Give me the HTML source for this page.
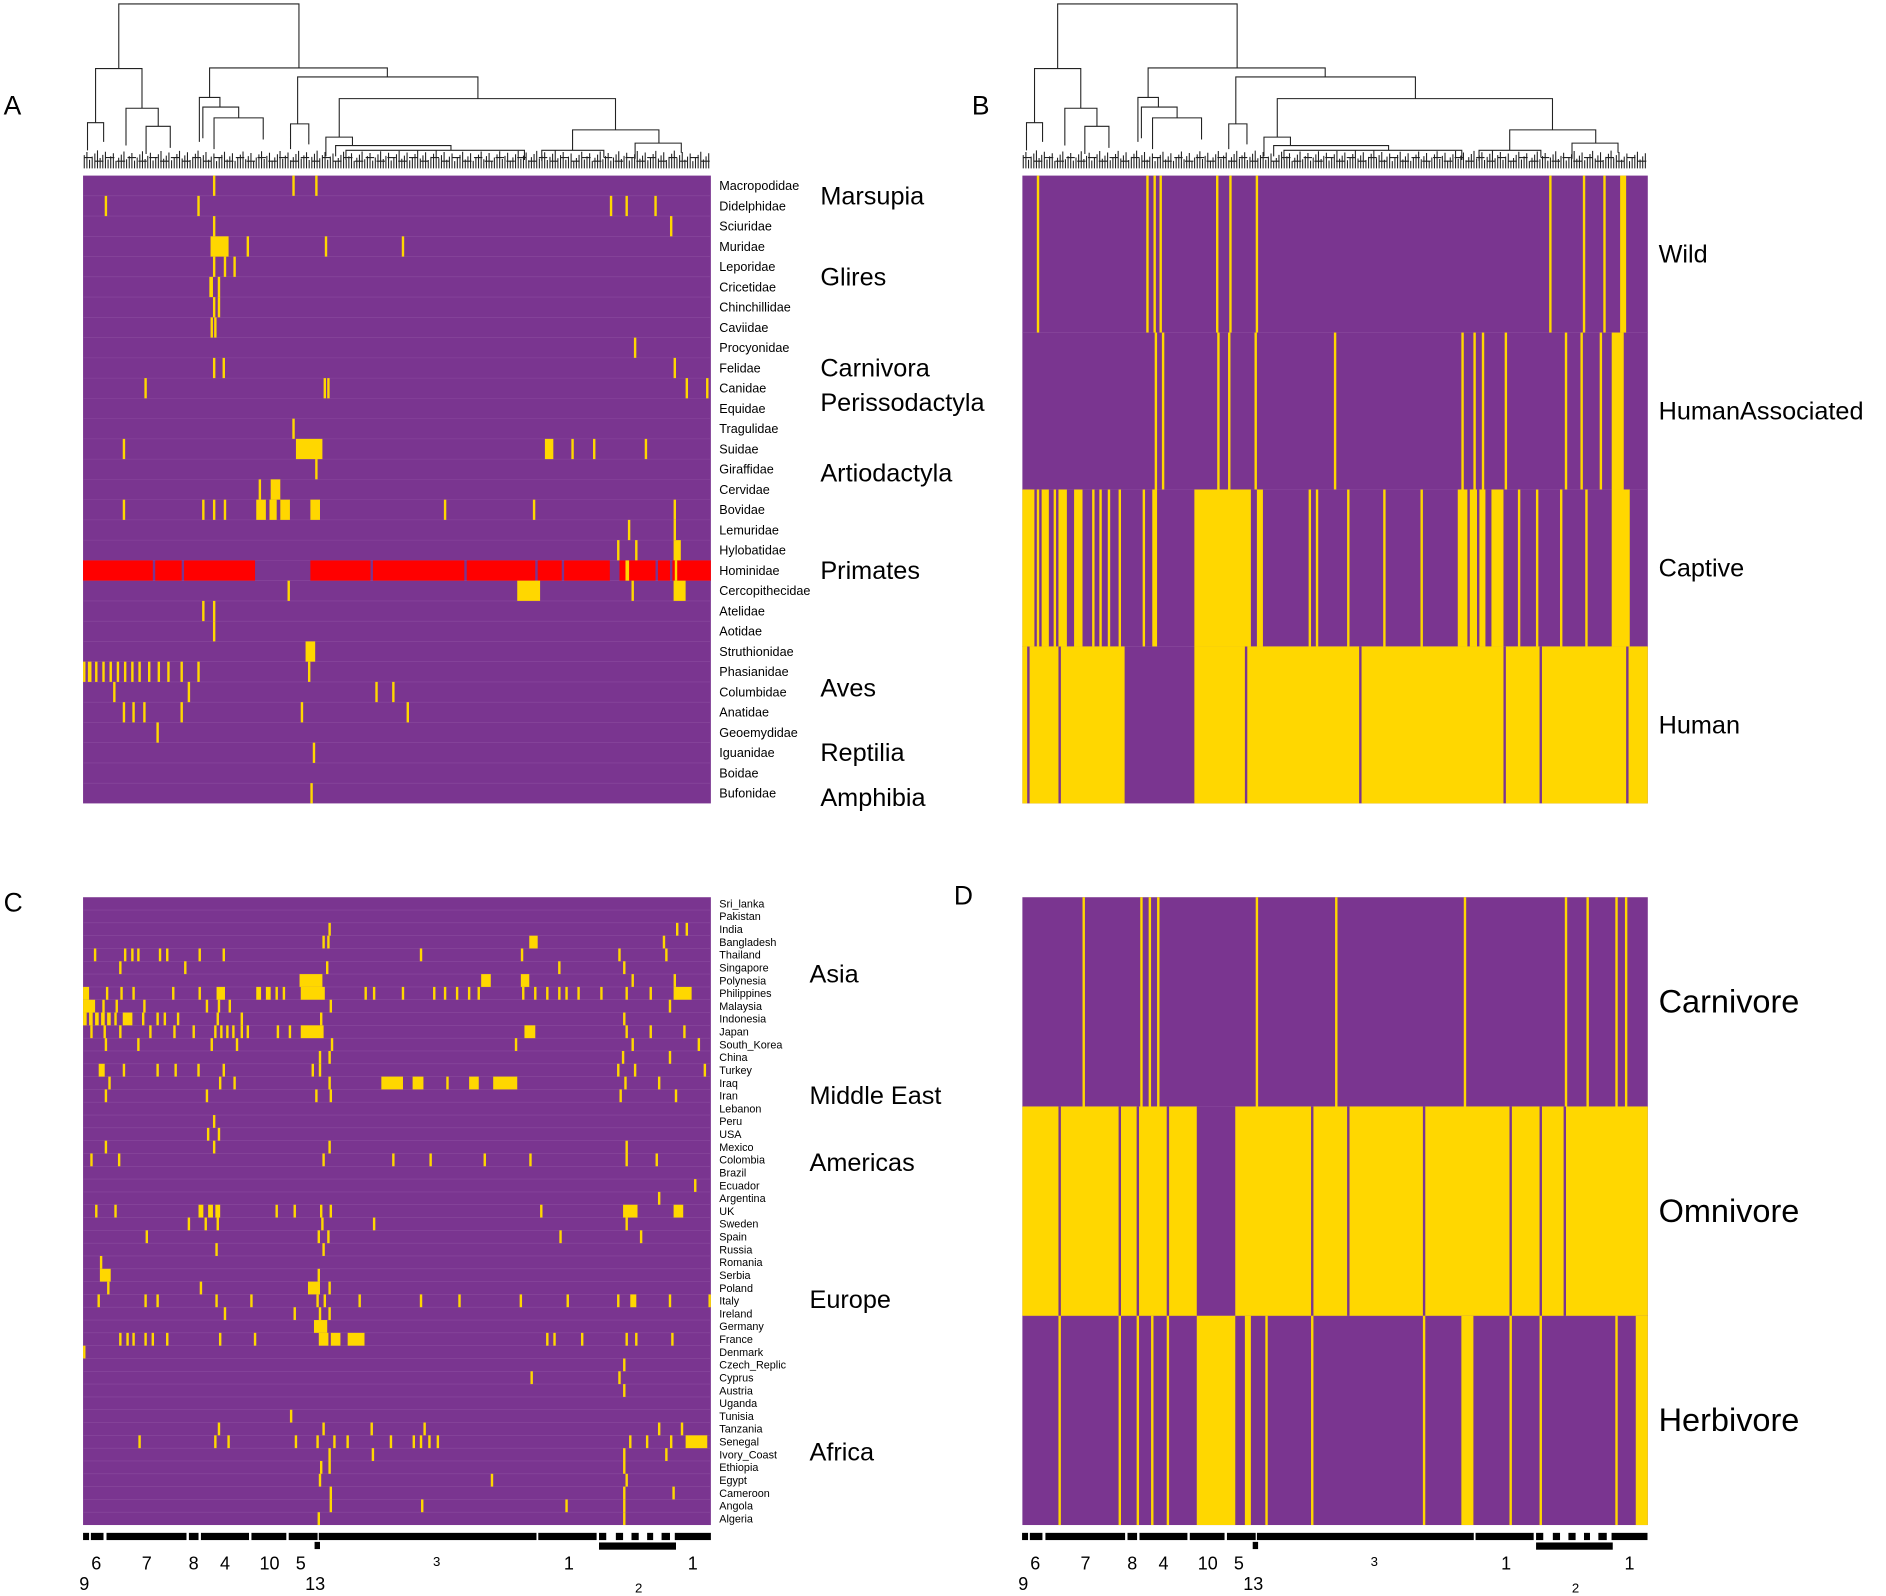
<!DOCTYPE html>
<html><head><meta charset="utf-8"><style>
html,body{margin:0;padding:0;background:#fff}
svg{display:block}
text{font-family:"Liberation Sans",sans-serif;fill:#000}
</style></head><body>
<svg id="fig" xmlns="http://www.w3.org/2000/svg" width="1886" height="1596" viewBox="0 0 1568 1327">
<rect width="1568" height="1327" fill="#fff"/>
<text x="3" y="95" font-size="22">A</text>
<text x="808" y="95" font-size="22">B</text>
<text x="3" y="758" font-size="22">C</text>
<text x="793" y="752" font-size="22">D</text>
<g id="dendroA"></g>
<g id="dendroB" transform="translate(781,0) scale(0.9962,1)"></g>
<g id="hmA"></g>
<g id="hmB"></g>
<g id="hmC"></g>
<g id="hmD"></g>
<g id="clC"></g>
<g id="clD" transform="translate(781,0) scale(0.9962,1)"></g>
</svg>
<script>
// ---- data ----
const rowsA=["Macropodidae","Didelphidae","Sciuridae","Muridae","Leporidae","Cricetidae","Chinchillidae","Caviidae","Procyonidae","Felidae","Canidae","Equidae","Tragulidae","Suidae","Giraffidae","Cervidae","Bovidae","Lemuridae","Hylobatidae","Hominidae","Cercopithecidae","Atelidae","Aotidae","Struthionidae","Phasianidae","Columbidae","Anatidae","Geoemydidae","Iguanidae","Boidae","Bufonidae"];
const groupsA=[["Marsupia",0.5],["Glires",4.5],["Carnivora",9],["Perissodactyla",10.7],["Artiodactyla",14.2],["Primates",19],["Aves",24.8],["Reptilia",28],["Amphibia",30.2]];
// yellow cells: [row, leafStart, leafWidth]
const cellsA=[[0,108],[0,174],[0,193],[1,18],[1,95],[1,438],[1,451],[1,475],[2,108],[2,488],[3,106,15],[3,136],[3,201],[3,265],[4,108],[4,117],[4,125],[5,105,3],[5,112],[6,108],[6,112],[7,106],[7,109],[8,458],[9,108],[9,116],[9,491],[10,51],[10,200],[10,203],[10,501],[10,518],[12,174],[13,33],[13,177,22],[13,384,7],[13,406],[13,424],[13,467],[14,193],[15,146],[15,156,8],[16,33],[16,99],[16,108],[16,117],[16,144,8],[16,155,6],[16,164,8],[16,189,8],[16,300],[16,374],[16,491],[17,453],[17,491],[18,444],[18,459],[18,491,6],[20,170],[20,361,19],[20,456],[20,491,10],[21,99],[21,108],[22,108],[23,185,8],[24,0],[24,4,3],[24,10],[24,16],[24,22],[24,28],[24,34],[24,40],[24,46],[24,54],[24,62],[24,70],[24,81],[24,95],[24,187],[25,25],[25,87],[25,243],[25,257],[26,33],[26,41],[26,50],[26,81],[26,181],[26,269],[27,61],[28,191],[30,189]];
const redA=[[19,0,58],[19,60,22],[19,84,59],[19,189,50],[19,241,76],[19,319,57],[19,378,20],[19,400,38],[19,446,30],[19,478,10],[19,490,32]];
const yelOnRedA=[[19,451,3],[19,492,2]];
const rowsB=["Wild","HumanAssociated","Captive","Human"];
const cellsB=[[0,12],[0,103],[0,109],[0,114],[0,161],[0,172],[0,194],[0,438],[0,466],[0,483],[0,497,5],
[1,110],[1,116],[1,162],[1,171],[1,193],[1,259],[1,365],[1,375],[1,382],[1,401],[1,451],[1,464],[1,480],[1,490,10],
[2,0,10],[2,12],[2,16,6],[2,26],[2,30,7],[2,43,7],[2,58],[2,64],[2,71],[2,80],[2,100],[2,108,4],[2,143,47],[2,195,5],[2,238],[2,244],[2,270],[2,300],[2,331],[2,362,8],[2,372,6],[2,380,5],[2,390,10],[2,412],[2,427],[2,447],[2,468],[2,490,15],
[3,0,4],[3,6,24],[3,32,53],[3,143,42],[3,187,93],[3,282,118],[3,402,28],[3,432,70],[3,504,16]];
const rowsC=["Sri_lanka","Pakistan","India","Bangladesh","Thailand","Singapore","Polynesia","Philippines","Malaysia","Indonesia","Japan","South_Korea","China","Turkey","Iraq","Iran","Lebanon","Peru","USA","Mexico","Colombia","Brazil","Ecuador","Argentina","UK","Sweden","Spain","Russia","Romania","Serbia","Poland","Italy","Ireland","Germany","France","Denmark","Czech_Replic","Cyprus","Austria","Uganda","Tunisia","Tanzania","Senegal","Ivory_Coast","Ethiopia","Egypt","Cameroon","Angola","Algeria"];
const groupsC=[["Asia",5.5],["Middle East",15],["Americas",20.2],["Europe",30.9],["Africa",42.8]];
const cellsC=[[2,204],[2,493],[2,501],[3,199],[3,203],[3,371,7],[3,482],[4,9],[4,34],[4,40],[4,45],[4,63],[4,69],[4,96],[4,116],[4,280],[4,364],[4,445],[4,484],[5,30],[5,84],[5,202],[5,395],[5,449],[6,180,19],[6,331,8],[6,364,7],[6,456],[6,491],
[7,0,5],[7,19],[7,31],[7,41],[7,74],[7,96],[7,111,7],[7,144,4],[7,152,4],[7,160],[7,166],[7,181,20],[7,234],[7,241],[7,265],[7,291],[7,300],[7,310],[7,320],[7,328],[7,365],[7,375],[7,385],[7,395],[7,401],[7,411],[7,430],[7,451],[7,471],[7,491,15],
[8,0,10],[8,16],[8,27],[8,50],[8,102],[8,112],[8,121],[8,205],[8,487],[9,0,3],[9,5,3],[9,10,3],[9,15,3],[9,20,3],[9,26],[9,33,8],[9,49],[9,61],[9,67],[9,78],[9,111],[9,131],[9,197],[9,449],
[10,6],[10,17],[10,30],[10,55],[10,75],[10,91],[10,109],[10,114],[10,119],[10,124],[10,131],[10,136],[10,161],[10,171],[10,181,19],[10,367,9],[10,451],[10,471],[10,499],
[11,18],[11,45],[11,106],[11,127],[11,206],[11,359],[11,456],[11,511],[12,196],[12,204],[12,448],[12,487],[13,13,5],[13,33],[13,61],[13,76],[13,95],[13,116],[13,190],[13,196],[13,444],[13,458],[13,516],
[14,21],[14,113],[14,125],[14,204],[14,248,18],[14,274,9],[14,302],[14,321,8],[14,341,20],[14,450],[14,478],[15,18],[15,102],[15,193],[15,205],[15,446],[15,492],[17,108],[18,103],[18,112],[19,18],[19,108],[19,204],[19,451],
[20,6],[20,29],[20,199],[20,257],[20,288],[20,333],[20,371],[20,451],[20,476],[22,508],[23,478],[24,10],[24,26],[24,96,4],[24,104,4],[24,110,4],[24,160],[24,175],[24,197],[24,205],[24,380],[24,449,12],[24,491,8],
[25,87],[25,101],[25,111],[25,198],[25,241],[25,451],[26,52],[26,195],[26,203],[26,396],[26,463],[27,110],[27,199],[28,14],[29,14,9],[29,195],[30,20],[30,97],[30,187,10],[30,204],
[31,12],[31,51],[31,61],[31,110],[31,139],[31,194],[31,200],[31,229],[31,280],[31,312],[31,363],[31,402],[31,444],[31,455,5],[31,487],[31,520],[32,117],[32,175],[32,196],[32,204],[33,192,11],
[34,30],[34,36],[34,41],[34,51],[34,57],[34,69],[34,113],[34,142],[34,196,8],[34,206,8],[34,220,14],[34,385],[34,391],[34,414],[34,451],[34,459],[34,489],[35,0],[36,449],[37,372],[37,445],[38,449],[40,172],
[41,112],[41,199],[41,239],[41,283],[41,478],[41,497],[42,46],[42,109],[42,120],[42,176],[42,194],[42,208],[42,219],[42,255],[42,274],[42,280],[42,287],[42,294],[42,454],[42,468],[42,488],[42,501,18],
[43,204],[43,240],[43,449],[43,484],[44,197],[44,204],[44,449],[45,196],[45,339],[45,451],[46,205],[46,449],[46,490],[47,205],[47,281],[47,401],[47,449],[48,195],[48,449]];
const rowsD=["Carnivore","Omnivore","Herbivore"];
const cellsD=[[0,50],[0,98],[0,105],[0,112],[0,194],[0,260],[0,367],[0,451],[0,469],[0,493],[0,501],
[1,0,30],[1,32,48],[1,82,13],[1,97,23],[1,122,23],[1,177,63],[1,242,28],[1,272,61],[1,335,70],[1,407,23],[1,432,18],[1,452,68],
[2,30],[2,80],[2,95],[2,107],[2,120],[2,145,32],[2,185,5],[2,202],[2,240],[2,333],[2,365,10],[2,405],[2,430],[2,493],[2,510,10]];
const clusterSegs=[[69,74],[75.5,86],[88.5,155],[157,165],[167,207],[209,238],[240,264],[265,446],[447.5,496],[498,504],[512,518],[525,531],[538,543],[550,557],[561,591]];
const clusterLabels=[["9",70,1322,15],["6",80,1305,15],["7",122,1305,15],["8",161,1305,15],["4",187,1305,15],["10",224,1305,15],["5",250,1305,15],["13",262,1322,15],["3",363,1302,11],["1",473,1305,15],["2",531,1324,11],["1",576,1305,15]];

const NS="http://www.w3.org/2000/svg";
const PUR="#7a3590",YEL="#ffd700",RED="#ff0000";
function mk(tag,attrs,parent){const e=document.createElementNS(NS,tag);for(const k in attrs)e.setAttribute(k,attrs[k]);parent.appendChild(e);return e;}

function heatmap(gid,x0,y0,w,h,nLeaf,rows,cells,color,name){
  const g=document.getElementById(gid);
  const bg=mk("rect",{x:x0,y:y0,width:w,height:h,fill:PUR},g);
  
  
  const rh=h/rows.length;
  const xs=i=>x0+i*w/nLeaf, ys=r=>y0+r*rh;
  for(let r=1;r<rows.length;r++){const l=mk("line",{x1:x0,x2:x0+w,y1:ys(r),y2:ys(r),stroke:"#8a4a9e","stroke-width":0.5},g);
    
    }
  return {g,xs,ys,rh};
}
function draw(hm,cells,color,name){
  cells.forEach(c=>{const wd=c[2]||2;
    const r=mk("rect",{x:hm.xs(c[1]),y:hm.ys(c[0]),width:hm.xs(c[1]+wd)-hm.xs(c[1]),height:hm.rh,fill:color},hm.g);
    
    });
}
function labels(hm,x,rows,fs,name){
  rows.forEach((t,i)=>{const e=mk("text",{x:x,y:hm.ys(i)+hm.rh/2+fs*0.35,"font-size":fs},hm.g);e.textContent=t;
    
    });
}
// A
const A=heatmap("hmA",69,146,522,522,522,rowsA);
draw(A,redA,RED,'hominidae-cell');draw(A,cellsA,YEL,'presence-cell');draw(A,yelOnRedA,YEL,'presence-cell');
labels(A,598,rowsA,10.5,'family-label');
groupsA.forEach(([t,r])=>{const e=mk("text",{x:682,y:A.ys(r)+A.rh/2+7,"font-size":21},A.g);e.textContent=t;
  
  });
// B
const B=heatmap("hmB",850,146,520,522,520,rowsB);
draw(B,cellsB,YEL,'presence-cell');
rowsB.forEach((t,i)=>{const e=mk("text",{x:1379,y:B.ys(i)+B.rh/2+7,"font-size":21},B.g);e.textContent=t;
  
  });
// C
const C=heatmap("hmC",69,746,522,522,522,rowsC);
draw(C,cellsC,YEL,'presence-cell');
labels(C,598,rowsC,9,'country-label');
groupsC.forEach(([t,r])=>{const e=mk("text",{x:673,y:C.ys(r)+C.rh/2+7,"font-size":21},C.g);e.textContent=t;
  
  });
// D
const D=heatmap("hmD",850,746,520,522,520,rowsD);
draw(D,cellsD,YEL,'presence-cell');
rowsD.forEach((t,i)=>{const e=mk("text",{x:1379,y:D.ys(i)+D.rh/2+9,"font-size":27},D.g);e.textContent=t;
  
  });

// cluster bars
["clC","clD"].forEach(id=>{const g=document.getElementById(id);
  clusterSegs.forEach(s=>{const r=mk("rect",{x:s[0],y:1274.5,width:s[1]-s[0],height:6,fill:"#000"},g);
    
    });
  const lb=mk("rect",{x:498,y:1282.5,width:64,height:6,fill:"#000"},g);
  
  
  const mkr=mk("rect",{x:261.5,y:1282,width:4.5,height:6,fill:"#000"},g);
  
  
  clusterLabels.forEach(([t,x,y,fs])=>{const e=mk("text",{x:x,y:y,"font-size":fs,"text-anchor":"middle"},g);e.textContent=t;
    
    });
});

// dendrograms: [xLeft, xRight, yJoin, yLeftEnd, yRightEnd]
const nodes=[[98.7,248.5,3.3,57,56.5],[79.4,118,57,102,90],[72.7,86.1,102,125,118],[104.7,131.5,90,121,105],[121.4,141.5,105,128,123],
[174.2,322,56.5,81,64],[165.7,182.8,81,118,89],[168.6,198.4,89,115,98],[177.9,218.8,98,124,116],
[247.4,397.3,64,103,82],[241.5,256.7,103,124,120],[282,511.7,82,114,108],[270.9,293,114,130,121],[279,374.9,121,130,125],[287.6,436,125,133,133],
[476,547.8,108,125,119],[450.4,502,125,134,131],[528,566.4,119,132,127]];
["dendroA","dendroB"].forEach(id=>{const g=document.getElementById(id);
  let d="";
  nodes.forEach(n=>{d+=`M${n[0]},${n[3]}V${n[2]}H${n[1]}V${n[4]}`;});
  // leaf fringe
  for(let x=70;x<590;x+=2.2){const top=125+((x*7)%9);d+=`M${x.toFixed(1)},140V${top}`;}
  for(let x=70;x<585;x+=9){d+=`M${x.toFixed(1)},${131+((x*3)%6)}h7`;}
  const p=mk("path",{d:d,fill:"none",stroke:"#222","stroke-width":0.9},g);
  
  
});
</script>
</body></html>
